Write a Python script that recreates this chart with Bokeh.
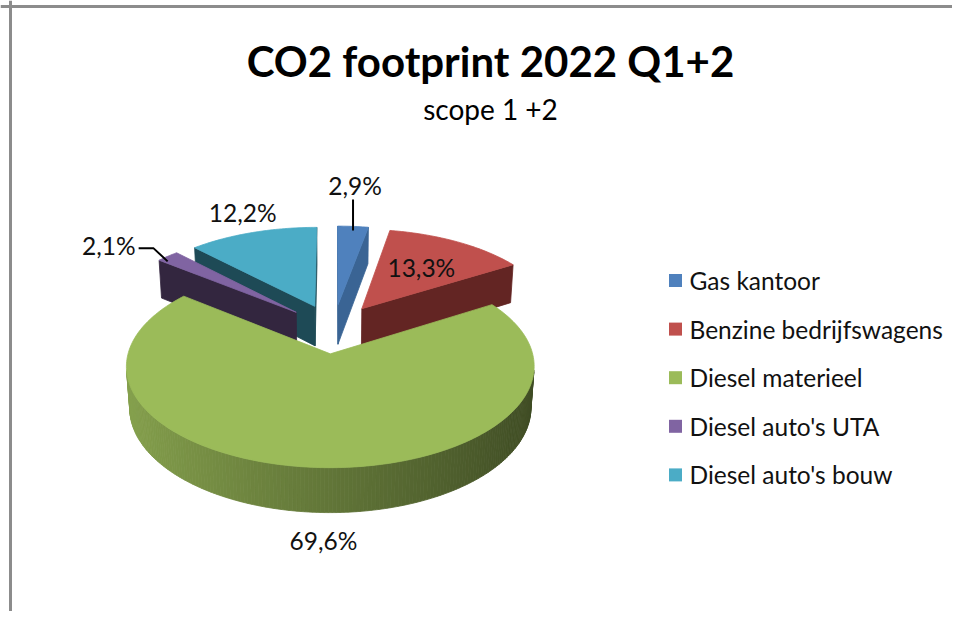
import math
import numpy as np
from bokeh.plotting import figure
from bokeh.models import Range1d, ColumnDataSource, Span
from bokeh.core.properties import value
from bokeh.embed import file_html
from bokeh.resources import INLINE

# ---------------- data ----------------
title_text = "CO2 footprint 2022 Q1+2"
subtitle_text = "scope 1 +2"
categories = ["Gas kantoor", "Benzine bedrijfswagens", "Diesel materieel",
              "Diesel auto's UTA", "Diesel auto's bouw"]
shares = [2.9, 13.3, 69.6, 2.1, 12.2]
top_colors = ["#4F81BD", "#C0504D", "#9BBB59", "#8064A2", "#4BACC6"]
wall_colors = ["#3A6494", "#632523", "#4F6228", "#33263F", "#1E4A56"]

FONT = "Lato"

# ---------------- figure (1 data unit = 1 screen px) ----------------
W, H = 952, 611
p = figure(width=W, height=H, x_range=Range1d(0, W), y_range=Range1d(H, 0),
           output_backend="svg", toolbar_location=None, min_border=0,
           x_axis_type=None, y_axis_type=None)
p.grid.visible = False
p.outline_line_color = None
p.background_fill_color = "white"
p.border_fill_color = "white"

p.add_layout(Span(location=10, dimension="height", line_color="#8c8c8c", line_width=3))
p.add_layout(Span(location=6, dimension="width", line_color="#8c8c8c", line_width=3))

# ---------------- 3D perspective projection ----------------
D = 7.3
PHI = math.radians(28.5)
FOC = 1430.0
CX, CY = 333.0, 328.0
THICK = 0.238
EXPL = 0.263
cph, sph = math.cos(PHI), math.sin(PHI)
CAM = np.array([0.0, -D * cph, D * sph])


def proj(X, Y, Z):
    X = np.asarray(X, float)
    Y = np.asarray(Y, float)
    Z = np.asarray(Z, float) + 0 * X
    depth = D + Y * cph - Z * sph
    up = Y * sph + Z * cph
    return CX + FOC * X / depth, CY - FOC * up / depth


def shade(hexcol, f):
    r, g, b = (int(hexcol[k:k + 2], 16) for k in (1, 3, 5))
    return "#%02x%02x%02x" % tuple(max(0, min(255, int(round(v * f)))) for v in (r, g, b))


def visible(n, P):
    return float(np.dot(n, CAM - P)) > 0


total = float(sum(shares))
bounds = np.concatenate([[0.0], np.cumsum(shares)]) / total * 360.0
mids = [(bounds[i] + bounds[i + 1]) / 2 for i in range(len(shares))]
offsets = [(EXPL * math.sin(math.radians(m)), EXPL * math.cos(math.radians(m))) for m in mids]

xs, ys, cols = [], [], []


def add_face(X, Y, Z, col):
    sx, sy = proj(X, Y, Z)
    xs.append(list(sx))
    ys.append(list(sy))
    cols.append(col)


order = sorted(range(len(shares)), key=lambda i: -offsets[i][1])
for i in order:
    a0, a1 = math.radians(bounds[i]), math.radians(bounds[i + 1])
    ox, oy = offsets[i]
    apex = np.array([ox, oy, 0.0])
    # radial start wall
    n0 = np.array([-math.cos(a0), math.sin(a0), 0.0])
    if visible(n0, apex):
        px, py = ox + math.sin(a0), oy + math.cos(a0)
        add_face([ox, px, px, ox], [oy, py, py, oy], [0, 0, -THICK, -THICK], wall_colors[i])
    # radial end wall
    n1 = np.array([math.cos(a1), -math.sin(a1), 0.0])
    if visible(n1, apex):
        px, py = ox + math.sin(a1), oy + math.cos(a1)
        add_face([ox, px, px, ox], [oy, py, py, oy], [0, 0, -THICK, -THICK], wall_colors[i])
    # outer curved wall (gradient strips)
    nseg = max(2, int(math.degrees(a1 - a0) / 1.0))
    th = np.linspace(a0, a1, nseg + 1)
    for k in range(nseg):
        tm = (th[k] + th[k + 1]) / 2
        nv = np.array([math.sin(tm), math.cos(tm), 0.0])
        P = np.array([ox + math.sin(tm), oy + math.cos(tm), 0.0])
        if visible(nv, P):
            t2 = [th[k], th[k + 1], th[k + 1], th[k]]
            X = [ox + math.sin(t) for t in t2]
            Y = [oy + math.cos(t) for t in t2]
            f = 0.63 - 0.23 * math.sin(tm)
            add_face(X, Y, [0, 0, -THICK, -THICK], shade(top_colors[i], f))
    # top face
    tt = np.linspace(a0, a1, max(3, int(math.degrees(a1 - a0)) + 2))
    X = [ox] + [ox + math.sin(t) for t in tt]
    Y = [oy] + [oy + math.cos(t) for t in tt]
    add_face(X, Y, [0.0] * len(X), top_colors[i])

src = ColumnDataSource(dict(xs=xs, ys=ys, c=cols))
p.patches("xs", "ys", source=src, fill_color="c", line_color="c", line_width=0.8)

# ---------------- data labels ----------------
label_texts = [("%.1f" % v).replace(".", ",") + "%" for v in shares]


def anchor(i, r, z=0.0):
    m = math.radians(mids[i])
    ox, oy = offsets[i]
    sx, sy = proj([ox + r * math.sin(m)], [oy + r * math.cos(m)], [z])
    return float(sx[0]), float(sy[0])


lab_x, lab_y, lab_t, lab_align = [], [], [], []
lead_x, lead_y = [], []
for i in range(len(shares)):
    if i == 0:  # small slice with vertical leader
        ax, ay = anchor(i, 1.0)
        ay += 4
        lead_x.append([ax, ax]); lead_y.append([ay, ay - 31])
        lab_x.append(ax + 2); lab_y.append(ay - 45); lab_align.append("center")
    elif i == 3:  # small slice with elbow leader
        ax, ay = anchor(i, 1.0)
        ay += 5
        lead_x.append([ax, ax - 14, ax - 29]); lead_y.append([ay, ay - 13, ay - 13])
        lab_x.append(ax - 32); lab_y.append(ay - 16); lab_align.append("right")
    elif i == 2:  # big front slice, label below
        ax, ay = anchor(i, 1.0, -THICK)
        lab_x.append(ax + 7); lab_y.append(ay + 28); lab_align.append("center")
    elif i == 1:  # inside
        ax, ay = anchor(i, 0.6)
        lab_x.append(ax); lab_y.append(ay); lab_align.append("center")
    else:  # outside
        ax, ay = anchor(i, 1.25)
        lab_x.append(ax + 4); lab_y.append(ay - 4); lab_align.append("center")
    lab_t.append(label_texts[i])

p.multi_line(lead_x, lead_y, line_color="black", line_width=2)
lsrc = ColumnDataSource(dict(x=lab_x, y=lab_y, t=lab_t, a=lab_align))
p.text("x", "y", text="t", source=lsrc, text_align="a", text_baseline="middle",
       text_font=value(FONT), text_font_size=value("24.5px"), text_color="#111111")

# ---------------- title ----------------
p.text([490], [60], text=[title_text], text_align="center", text_baseline="middle",
       text_font=value(FONT), text_font_style="bold", text_font_size=value("42px"),
       text_color="black")
p.text([490], [108], text=[subtitle_text], text_align="center", text_baseline="middle",
       text_font=value(FONT), text_font_size=value("28px"), text_color="black")

# ---------------- legend ----------------
leg_y = [280 + 48.6 * k for k in range(len(categories))]
p.scatter([675] * len(categories), leg_y, marker="square", size=13,
          fill_color=top_colors, line_color=None)
p.text([689] * len(categories), leg_y, text=categories, text_align="left",
       text_baseline="middle", text_font=value(FONT), text_font_size=value("24.5px"),
       text_color="#111111")

open("out.html", "w").write(file_html(p, INLINE))
